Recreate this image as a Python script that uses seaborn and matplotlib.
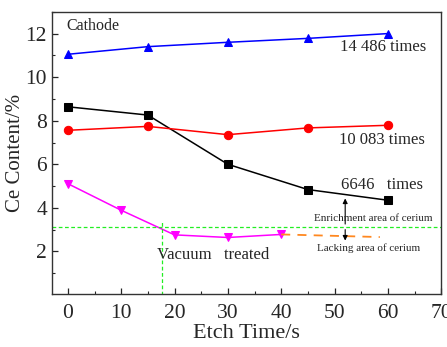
import matplotlib
matplotlib.use("Agg")
import matplotlib.pyplot as plt
import seaborn as sns
import pandas as pd
from matplotlib.ticker import MultipleLocator

sns.set_theme(style="ticks")
plt.rcParams['font.family'] = ['Liberation Serif', 'DejaVu Serif']
plt.rcParams['xtick.direction'] = 'in'
plt.rcParams['ytick.direction'] = 'in'

x5 = [0, 15, 30, 45, 60]
blue_vals = [11.05, 11.4, 11.6, 11.78, 12.0]
black_vals = [8.64, 8.26, 6.0, 4.84, 4.35]
red_vals = [7.56, 7.74, 7.36, 7.67, 7.79]
x_vac = [0, 10, 20, 30, 40]
magenta_vals = [5.11, 3.89, 2.76, 2.64, 2.78]
orange_x = [40, 58.5]
orange_vals = [2.78, 2.66]
threshold = 3.13
vline_x = 17.7

fig = plt.figure(figsize=(4.47, 3.47), dpi=100)
ax = fig.add_axes([0.116, 0.153, 0.871, 0.813])

series = [
    (x5, blue_vals, "#0000ff", "^"),
    (x5, black_vals, "#000000", "s"),
    (x5, red_vals, "#ff0000", "o"),
    (x_vac, magenta_vals, "#ff00ff", "v"),
]
for xs, ys, c, m in series:
    df = pd.DataFrame({"x": xs, "y": ys})
    sns.lineplot(data=df, x="x", y="y", ax=ax, color=c, marker=m,
                 markersize=6, markeredgecolor=c, linewidth=1.1)

dfo = pd.DataFrame({"x": orange_x, "y": orange_vals})
sns.lineplot(data=dfo, x="x", y="y", ax=ax, color="#ff8820",
             linestyle=(0, (5, 4)), linewidth=1.3)

ax.axhline(threshold, color="#22ee22", linestyle=(0, (3, 2)), linewidth=0.9)
ax.plot([vline_x, vline_x], [0, 3.4], color="#22ee22",
        linestyle=(0, (3, 2)), linewidth=0.9)

ax.annotate("", xy=(52, 4.56), xytext=(52, threshold),
            arrowprops=dict(arrowstyle="-|>", color="black", lw=0.8,
                            mutation_scale=7))
ax.annotate("", xy=(52, 2.37), xytext=(52, threshold),
            arrowprops=dict(arrowstyle="-|>", color="black", lw=0.8,
                            mutation_scale=7))

ax.text(-0.2, 12.35, "Cathode", fontsize=11.5, va="center", ha="left")
ax.text(51.0, 11.4, "14 486 times", fontsize=12, va="center", ha="left")
ax.text(50.8, 7.13, "10 083 times", fontsize=12, va="center", ha="left")
ax.text(51.3, 5.03, "6646   times", fontsize=12, va="center", ha="left")
ax.text(57.3, 3.5, "Enrichment area of cerium", fontsize=8,
        va="center", ha="center")
ax.text(56.3, 2.14, "Lacking area of cerium", fontsize=8,
        va="center", ha="center")
ax.text(16.7, 1.83, "Vacuum   treated", fontsize=12, va="center", ha="left")

ax.set_xlim(-3, 70)
ax.set_ylim(0.05, 13)
ax.xaxis.set_major_locator(MultipleLocator(10))
ax.xaxis.set_minor_locator(MultipleLocator(5))
ax.yaxis.set_major_locator(MultipleLocator(2))
ax.yaxis.set_minor_locator(MultipleLocator(1))
ax.set_yticks([2, 4, 6, 8, 10, 12])
ax.tick_params(axis="both", which="major", labelsize=15.5, length=4, width=0.9)
ax.tick_params(axis="x", which="major", pad=7)
ax.tick_params(axis="both", which="minor", length=2.5, width=0.8)
ax.set_xlabel("Etch Time/s", fontsize=16, labelpad=1)
ax.set_ylabel("Ce Content/%", fontsize=15, labelpad=0)
for s in ax.spines.values():
    s.set_linewidth(1.0)
    s.set_color("#333333")

fig.savefig("out.png", dpi=100)
